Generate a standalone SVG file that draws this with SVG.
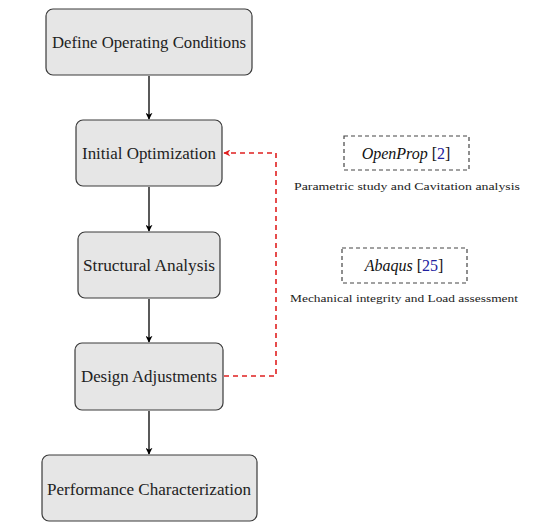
<svg xmlns="http://www.w3.org/2000/svg" width="533" height="525" viewBox="0 0 533 525">
<defs>
<marker id="ah" viewBox="0 0 10 10" refX="9" refY="5" markerWidth="7" markerHeight="7" orient="auto" markerUnits="userSpaceOnUse"><path d="M0,0 L10,5 L0,10 L3,5 Z" fill="#000"/></marker>
<marker id="ahr" viewBox="0 0 10 10" refX="9" refY="5" markerWidth="7" markerHeight="7" orient="auto" markerUnits="userSpaceOnUse"><path d="M0,0 L10,5 L0,10 L3,5 Z" fill="#e02020"/></marker>
<style>
.box{fill:#e6e6e6;stroke:#3a3a3a;stroke-width:1.2}
text{font-family:'Liberation Serif','DejaVu Serif',serif}
.lbl{font-size:16px;fill:#222;text-anchor:middle;dominant-baseline:central}
.tool{fill:none;stroke:#444;stroke-width:1.2;stroke-dasharray:4,3}
.tt{font-size:16px;font-style:italic;fill:#111;text-anchor:middle;dominant-baseline:central}
.ref{font-style:normal;fill:#2020a0}
.brk{font-style:normal}
.cap{font-size:10.5px;fill:#222;text-anchor:middle}
.flow{stroke:#000;stroke-width:1.3;fill:none}
.fb{stroke:#e02020;stroke-width:1.6;fill:none;stroke-dasharray:5,4}
</style>
</defs>
<rect width="533" height="525" fill="#fff"/>
<g id="connectors">
<line class="flow" x1="149" y1="76" x2="149" y2="119" marker-end="url(#ah)"/>
<line class="flow" x1="149" y1="187" x2="149" y2="231" marker-end="url(#ah)"/>
<line class="flow" x1="149" y1="299" x2="149" y2="342" marker-end="url(#ah)"/>
<line class="flow" x1="149" y1="411" x2="149" y2="454" marker-end="url(#ah)"/>
<polyline class="fb" points="224,376 276,376 276,153 224,153" marker-end="url(#ahr)"/>
</g>
<g id="n1"><rect class="box" x="46" y="9" width="206" height="66" rx="7"/><text class="lbl" x="149" y="42" textLength="194" lengthAdjust="spacingAndGlyphs">Define Operating Conditions</text></g>
<g id="n2"><rect class="box" x="76" y="120" width="146" height="66" rx="7"/><text class="lbl" x="149" y="153" textLength="134" lengthAdjust="spacingAndGlyphs">Initial Optimization</text></g>
<g id="n3"><rect class="box" x="78" y="232" width="142" height="66" rx="7"/><text class="lbl" x="149" y="265" textLength="132" lengthAdjust="spacingAndGlyphs">Structural Analysis</text></g>
<g id="n4"><rect class="box" x="75" y="343" width="148" height="67" rx="7"/><text class="lbl" x="149" y="376" textLength="136" lengthAdjust="spacingAndGlyphs">Design Adjustments</text></g>
<g id="n5"><rect class="box" x="42" y="455" width="215" height="66" rx="7"/><text class="lbl" x="149" y="489" textLength="204" lengthAdjust="spacingAndGlyphs">Performance Characterization</text></g>
<g id="t1"><rect class="tool" x="344" y="136" width="125" height="34"/><text class="tt" x="406" y="153">OpenProp <tspan class="brk">[</tspan><tspan class="ref">2</tspan><tspan class="brk">]</tspan></text><text class="cap" x="407" y="190" textLength="226" lengthAdjust="spacingAndGlyphs">Parametric study and Cavitation analysis</text></g>
<g id="t2"><rect class="tool" x="342" y="248" width="125" height="35"/><text class="tt" x="404" y="265">Abaqus <tspan class="brk">[</tspan><tspan class="ref">25</tspan><tspan class="brk">]</tspan></text><text class="cap" x="404" y="302" textLength="228" lengthAdjust="spacingAndGlyphs">Mechanical integrity and Load assessment</text></g>
</svg>
